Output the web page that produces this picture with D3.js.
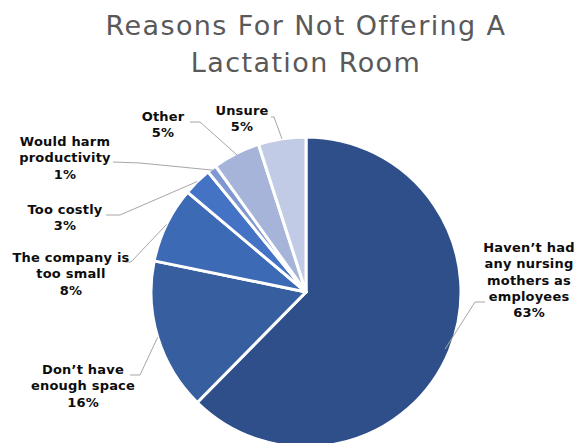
<!DOCTYPE html>
<html>
<head>
<meta charset="utf-8">
<script src="https://cdn.jsdelivr.net/npm/d3@7"></script>
<style>
  html, body { margin: 0; padding: 0; background: #fff; }
  svg { display: block; }
</style>
</head>
<body>
<svg id="chart" width="576" height="443"></svg>
<script>
// Survey answers, in drawing order (clockwise from 12 o'clock)
const categories = [
  "Haven\u2019t had any nursing mothers as employees",
  "Don\u2019t have enough space",
  "The company is too small",
  "Too costly",
  "Would harm productivity",
  "Other",
  "Unsure"
];
const values = [63, 16, 8, 3, 1, 5, 5];
const percentLabels = ["63%", "16%", "8%", "3%", "1%", "5%", "5%"];
const labelLines = [
  ["Haven\u2019t had", "any nursing", "mothers as", "employees"],
  ["Don\u2019t have", "enough space"],
  ["The company is", "too small"],
  ["Too costly"],
  ["Would harm", "productivity"],
  ["Other"],
  ["Unsure"]
];
const colors = ["#2F4F8A", "#375F9F", "#3D6AB4", "#4472C4", "#7F98D2", "#A6B4DA", "#C2CBE6"];

// Label placement: text block centre, first baseline, leader elbow and end
const labelLayout = [
  { x: 529, y: 252, elbow: [475, 302], end: [485, 302], r: 0.97 },
  { x: 83,  y: 374, elbow: [140, 375], end: [130, 375], r: 1.0 },
  { x: 71,  y: 262, elbow: [131, 262], end: [125, 262], r: 1.0 },
  { x: 65,  y: 214, elbow: [120, 215], end: [106, 215], r: 1.0 },
  { x: 65,  y: 146, elbow: [140, 163], end: [113, 162], r: 0.99 },
  { x: 163, y: 121, elbow: [200, 122], end: [190, 122], r: 0.99 },
  { x: 242, y: 115, elbow: [274, 117], end: [271, 117], r: 1.0 }
];

const svg = d3.select("#chart");
const cx = 306, cy = 292, radius = 155;

// Title
const title = svg.append("text")
  .attr("text-anchor", "middle")
  .attr("font-family", "Verdana, 'DejaVu Sans', sans-serif")
  .attr("font-size", 27)
  .attr("letter-spacing", 1.4)
  .attr("fill", "#595959");
title.append("tspan").attr("x", 306).attr("y", 35).text("Reasons For Not Offering A");
title.append("tspan").attr("x", 306).attr("y", 72).text("Lactation Room");

const pie = d3.pie().sort(null).value(d => d)
  .startAngle(0).endAngle(2 * Math.PI);
const arcs = pie(values);
const arc = d3.arc().innerRadius(0).outerRadius(radius);

const g = svg.append("g").attr("transform", `translate(${cx},${cy})`);

g.selectAll("path.slice")
  .data(arcs)
  .join("path")
  .attr("class", "slice")
  .attr("d", arc)
  .attr("fill", (d, i) => colors[i])
  .attr("stroke", "#fff")
  .attr("stroke-width", 3)
  .attr("stroke-linejoin", "round");

// Leader lines from slice edge to the label
const leaders = svg.append("g");
arcs.forEach((d, i) => {
  const L = labelLayout[i];
  const mid = (d.startAngle + d.endAngle) / 2;
  const sx = cx + Math.sin(mid) * radius * L.r;
  const sy = cy - Math.cos(mid) * radius * L.r;
  leaders.append("polyline")
    .attr("points", [[sx, sy], L.elbow, L.end].map(p => p.join(",")).join(" "))
    .attr("fill", "none")
    .attr("stroke", "#A6A6A6")
    .attr("stroke-width", 1);
});

// Labels
const labels = svg.append("g")
  .attr("font-family", "Verdana, 'DejaVu Sans', sans-serif")
  .attr("font-weight", "bold")
  .attr("font-size", 13)
  .attr("letter-spacing", 0.2)
  .attr("fill", "#0D0D0D")
  .attr("text-anchor", "middle");
arcs.forEach((d, i) => {
  const L = labelLayout[i];
  const t = labels.append("text");
  const lines = labelLines[i].concat([percentLabels[i]]);
  lines.forEach((s, k) => {
    t.append("tspan").attr("x", L.x).attr("y", L.y + k * 16.3).text(s);
  });
});
</script>
</body>
</html>
